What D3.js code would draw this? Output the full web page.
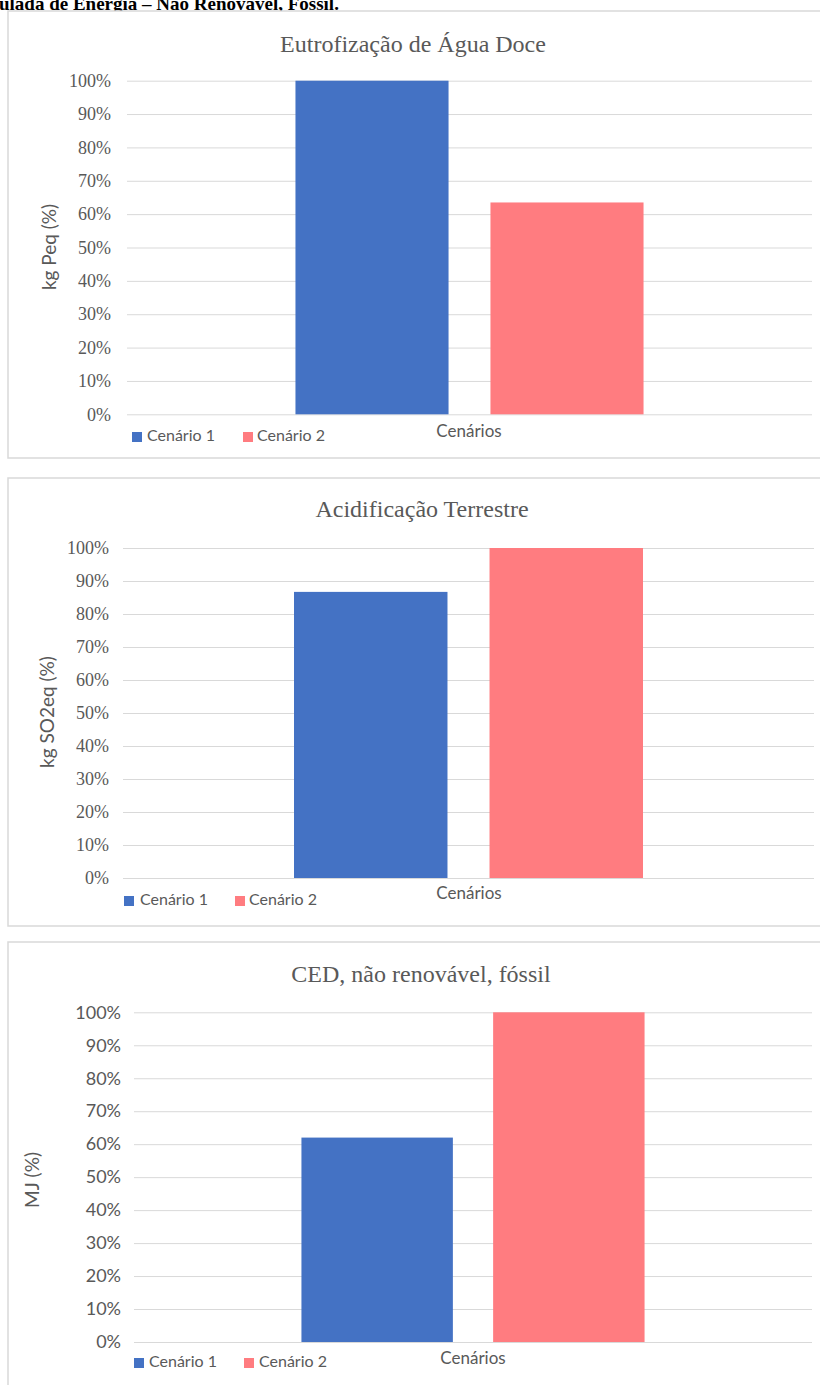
<!DOCTYPE html>
<html>
<head>
<meta charset="utf-8">
<script src="https://cdn.jsdelivr.net/npm/d3@7"></script>
<style>
  html, body { margin: 0; padding: 0; background: #fff; }
  svg { display: block; }
</style>
</head>
<body>
<svg id="chart" width="820" height="1385"></svg>
<script>
// ---------- data ----------
const headerText = "ulada de Energia – Não Renovável, Fóssil.";
const categories = ["Cenários"];
const seriesNames = ["Cenário 1", "Cenário 2"];
const chartTitles = ["Eutrofização de Água Doce", "Acidificação Terrestre", "CED, não renovável, fóssil"];
const yAxisTitles = ["kg Peq (%)", "kg SO2eq (%)", "MJ (%)"];
const eutrofizacao = [1.00, 0.635];
const acidificacao = [0.867, 1.00];
const cedFossil = [0.62, 1.00];
const tickValues = [0, 0.1, 0.2, 0.3, 0.4, 0.5, 0.6, 0.7, 0.8, 0.9, 1.0];
const seriesColors = ["#4472C4", "#FF7C80"];

const panelValues = [eutrofizacao, acidificacao, cedFossil];

// ---------- layout (positions & styles) ----------
const SERIF = "'Liberation Serif','Times New Roman',serif";
const SANS = "Lato,'Open Sans',sans-serif";
const layout = [
  { box: [8, 11, 830, 447], left: 127, right: 812, top: 80.7, bottom: 414.3,
    titleX: 413, titleY: 52, tickFont: SERIF, tickSize: 18, tickPad: 16,
    yTitleX: 56, yTitleY: 247, legY: 437, legSq: [132, 243], legTx: [147, 257],
    catX: 469, catY: 433, outerPad: 0.484, innerPad: 0.215 },
  { box: [8, 478, 830, 448], left: 123, right: 814, top: 548, bottom: 878,
    titleX: 422, titleY: 517, tickFont: SERIF, tickSize: 18, tickPad: 14,
    yTitleX: 54, yTitleY: 712, legY: 901, legSq: [124, 235], legTx: [140, 249],
    catX: 469, catY: 895, outerPad: 0.49, innerPad: 0.215 },
  { box: [8, 942, 830, 460], left: 134, right: 812, top: 1012.3, bottom: 1342,
    titleX: 421, titleY: 982, tickFont: SANS, tickSize: 18, tickPad: 13,
    yTitleX: 39, yTitleY: 1180, legY: 1363, legSq: [134, 244], legTx: [149, 259],
    catX: 473, catY: 1360, outerPad: 0.488, innerPad: 0.21 }
];

const svg = d3.select("#chart");

// header (cut-off line of surrounding document)
svg.append("text")
  .attr("x", -1).attr("y", 10)
  .attr("font-family", SERIF).attr("font-weight", "bold").attr("font-size", 19)
  .attr("fill", "#000")
  .text(headerText);

layout.forEach((L, i) => {
  const g = svg.append("g");
  const vals = panelValues[i];

  // chart border
  g.append("rect")
    .attr("x", L.box[0]).attr("y", L.box[1])
    .attr("width", L.box[2]).attr("height", L.box[3])
    .attr("fill", "#fff").attr("stroke", "#d9d9d9").attr("stroke-width", 1.5);

  // scales
  const y = d3.scaleLinear().domain([0, 1]).range([L.bottom, L.top]);
  const x0 = d3.scaleBand().domain(categories).range([L.left, L.right])
    .paddingInner(0).paddingOuter(L.outerPad);
  const x1 = d3.scaleBand().domain(seriesNames).range([0, x0.bandwidth()])
    .paddingInner(L.innerPad).paddingOuter(0);

  // gridlines + tick labels
  const axis = d3.axisLeft(y).tickValues(tickValues)
    .tickFormat(d3.format(".0%"))
    .tickSize(-(L.right - L.left)).tickPadding(L.tickPad);
  const ag = g.append("g").attr("transform", `translate(${L.left},0)`).call(axis);
  ag.select(".domain").remove();
  ag.selectAll(".tick line").attr("stroke", "#d9d9d9").attr("stroke-width", 1);
  ag.selectAll(".tick text")
    .attr("font-family", L.tickFont).attr("font-size", L.tickSize)
    .attr("fill", "#595959");

  // bars
  g.append("g").selectAll("rect")
    .data(seriesNames.map((s, k) => ({ cat: categories[0], s, v: vals[k], c: seriesColors[k] })))
    .join("rect")
    .attr("x", d => x0(d.cat) + x1(d.s))
    .attr("width", x1.bandwidth())
    .attr("y", d => y(d.v))
    .attr("height", d => y(0) - y(d.v))
    .attr("fill", d => d.c);

  // title
  g.append("text")
    .attr("x", L.titleX).attr("y", L.titleY).attr("text-anchor", "middle")
    .attr("font-family", SERIF).attr("font-size", 24).attr("fill", "#595959")
    .text(chartTitles[i]);

  // y-axis title
  g.append("text")
    .attr("transform", `translate(${L.yTitleX},${L.yTitleY}) rotate(-90)`)
    .attr("text-anchor", "middle")
    .attr("font-family", SANS).attr("font-size", 19).attr("fill", "#595959")
    .text(yAxisTitles[i]);

  // category label
  g.append("text")
    .attr("x", L.catX).attr("y", L.catY).attr("text-anchor", "middle")
    .attr("dominant-baseline", "middle")
    .attr("font-family", SANS).attr("font-size", 17).attr("fill", "#595959")
    .text(categories[0]);

  // legend
  seriesNames.forEach((s, k) => {
    g.append("rect")
      .attr("x", L.legSq[k]).attr("y", L.legY - 5)
      .attr("width", 10).attr("height", 10)
      .attr("fill", seriesColors[k]);
    g.append("text")
      .attr("x", L.legTx[k]).attr("y", L.legY).attr("dominant-baseline", "middle")
      .attr("font-family", SANS).attr("font-size", 16).attr("fill", "#595959")
      .text(s);
  });
});
</script>
</body>
</html>
